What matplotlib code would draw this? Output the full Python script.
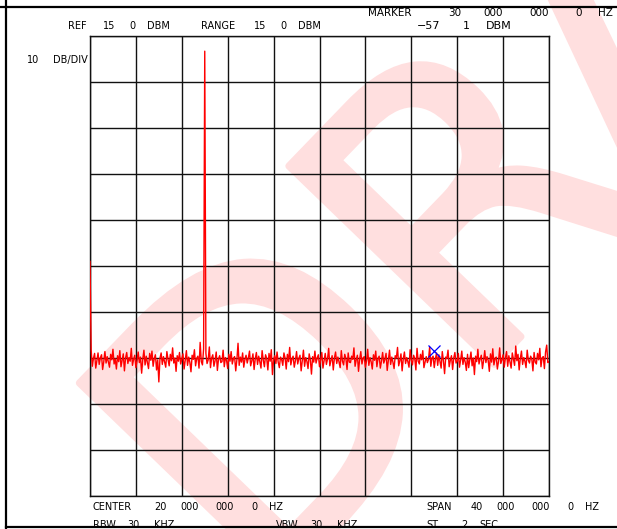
import numpy as np
import matplotlib
matplotlib.use('Agg')
import matplotlib.pyplot as plt
import matplotlib.patheffects as pe
from matplotlib.lines import Line2D
from matplotlib import transforms

# analyzer settings (MHz / dBm)
center_mhz = 20.0
span_mhz = 40.0
ref_dbm = 15.0
db_per_div = 10
n_div = 10
marker_mhz = 30.0
marker_dbm = -57.1

# trace, 401 points, 0..40 MHz
trace_dbm = [
    -34.0, -53.2, -56.8, -55.1, -54.0, -57.2, -55.6, -53.9, -56.4, -55.0, -54.3, -57.5, -55.8, -53.6, -56.1, -54.7, -55.9, -57.0, -54.2, -55.4,
    -53.1, -56.3, -55.2, -57.4, -54.5, -55.8, -53.4, -56.9, -55.5, -54.1, -57.8, -55.0, -53.8, -56.2, -54.9, -55.7, -52.9, -56.6, -55.3, -54.4,
    -57.1, -55.6, -53.7, -56.0, -54.8, -58.3, -55.2, -53.3, -56.5, -54.6, -55.9, -57.3, -54.0, -55.5, -53.5, -56.8, -55.1, -54.3, -57.6, -55.4,
    -60.2, -55.0, -53.9, -56.4, -54.7, -55.8, -57.0, -53.6, -55.3, -56.7, -54.2, -55.6, -52.8, -56.1, -55.0, -57.9, -54.5, -55.7, -53.8, -56.3,
    -55.2, -54.1, -57.4, -55.5, -53.4, -56.6, -54.8, -55.9, -58.0, -54.4, -55.3, -53.2, -56.7, -55.1, -54.6, -57.2, -51.6, -55.8, -56.5, -53.0,
    11.7, -54.0, -56.2, -55.4, -52.6, -57.1, -55.0, -54.3, -56.8, -55.6, -53.7, -57.7, -55.2, -54.5, -56.0, -55.8, -53.3, -56.9, -54.9, -55.5,
    -57.3, -54.2, -55.7, -53.6, -56.3, -55.1, -54.7, -57.8, -55.4, -51.8, -56.6, -54.8, -55.9, -53.9, -57.0, -55.3, -54.4, -56.1, -55.0, -53.5,
    -56.7, -55.6, -54.1, -57.5, -55.2, -53.8, -56.4, -54.6, -55.8, -57.2, -53.4, -55.5, -56.9, -54.3, -55.1, -57.6, -54.0, -55.7, -53.2, -58.6,
    -55.4, -54.5, -56.2, -53.7, -55.9, -57.1, -54.8, -55.3, -56.6, -53.9, -55.0, -57.4, -54.2, -55.8, -52.7, -56.5, -55.2, -54.6, -57.0, -55.6,
    -53.6, -56.3, -55.1, -54.4, -57.8, -55.5, -53.3, -56.8, -54.9, -55.7, -57.3, -54.1, -55.4, -58.5, -54.7, -55.9, -53.5, -56.1, -55.0, -54.3,
    -56.9, -55.3, -53.8, -57.2, -55.6, -54.0, -56.4, -55.2, -52.9, -56.7, -55.5, -54.5, -57.6, -55.0, -53.7, -56.2, -54.8, -55.8, -57.1, -53.4,
    -55.7, -56.5, -54.2, -55.1, -57.5, -53.9, -55.9, -56.0, -54.6, -55.3, -52.8, -56.8, -55.4, -54.4, -57.9, -55.2, -53.6, -56.3, -55.0, -54.7,
    -57.0, -55.6, -53.1, -56.6, -54.9, -55.8, -57.4, -54.3, -55.5, -53.5, -56.9, -55.1, -54.6, -57.2, -55.7, -53.8, -56.1, -55.3, -54.0, -57.7,
    -55.4, -53.3, -56.4, -54.8, -55.9, -57.3, -54.5, -55.0, -52.7, -56.7, -55.6, -54.1, -57.8, -55.2, -53.7, -56.2, -54.9, -55.8, -57.0, -53.2,
    -55.5, -56.5, -54.4, -55.1, -57.6, -52.9, -55.7, -56.3, -54.2, -55.4, -53.4, -57.1, -55.9, -54.7, -56.0, -55.3, -52.6, -56.8, -55.0, -54.6,
    -57.1, -55.2, -53.9, -56.6, -54.3, -55.8, -57.2, -53.6, -55.6, -58.4, -54.8, -55.1, -53.3, -56.9, -55.5, -54.5, -57.5, -55.0, -53.8, -56.1,
    -55.7, -54.0, -57.0, -55.4, -53.5, -56.4, -54.9, -55.9, -57.7, -54.2, -57.1, -55.3, -53.7, -56.7, -55.0, -58.6, -54.6, -55.8, -53.1, -56.3,
    -55.2, -54.4, -57.3, -55.6, -53.4, -56.0, -54.7, -55.5, -57.9, -54.1, -55.9, -53.0, -56.5, -55.1, -54.8, -57.4, -55.7, -52.8, -56.2, -55.4,
    -54.3, -57.0, -55.0, -53.6, -56.8, -54.5, -55.8, -57.2, -53.9, -55.3, -56.6, -52.4, -55.6, -54.2, -57.6, -55.1, -53.5, -56.4, -54.9, -55.7,
    -57.1, -53.3, -55.5, -56.1, -54.6, -55.2, -57.8, -53.8, -55.9, -56.3, -54.0, -55.4, -52.9, -56.9, -55.0, -54.7, -57.3, -53.7, -52.2, -56.0,
    -55.8,
]

W, H = 617, 529
fig = plt.figure(figsize=(W / 100, H / 100), dpi=100)
fig.patch.set_facecolor('white')

def fx(px):
    return px / W

def fy(py):
    return 1 - py / H

# pink watermark underneath everything
fig.text(fx(258), fy(609), 'DRAFT', fontsize=282, rotation=46,
         rotation_mode='anchor', ha='left', va='baseline',
         color='#ffdfdf', zorder=-10,
         path_effects=[pe.withStroke(linewidth=5, foreground='#ffdfdf',
                                     joinstyle='round', capstyle='round')])

ax = fig.add_axes([fx(90), fy(496), fx(459), 460 / H])
ax.set_facecolor('none')

lo = center_mhz - span_mhz / 2
hi = center_mhz + span_mhz / 2
freq = lo + span_mhz * np.arange(len(trace_dbm)) / (len(trace_dbm) - 1)
bottom = ref_dbm - db_per_div * n_div

ax.plot(freq, trace_dbm, color='red', lw=1.0, zorder=3)

# marker symbol sits a little above the trace point
mk_tr = transforms.offset_copy(ax.transData, fig=fig, y=12, units='points')
ax.plot([marker_mhz], [marker_dbm], marker='x', color='blue', ms=9, mew=0.9,
        transform=mk_tr, zorder=4, clip_on=False)

ax.set_xlim(lo, hi)
ax.set_ylim(bottom, ref_dbm)
ax.set_xticks(np.linspace(lo, hi, n_div + 1))
ax.set_yticks(np.linspace(bottom, ref_dbm, n_div + 1))
ax.grid(True, color='#111111', lw=1.0, zorder=2)
ax.set_axisbelow(False)
ax.tick_params(length=0, labelbottom=False, labelleft=False)
for s in ax.spines.values():
    s.set_color('#111111')
    s.set_linewidth(1.0)


def plotter_text(x0, y, s, pitch, size):
    # fixed-pitch layout: each word at its character column
    i = 0
    for word in s.split(' '):
        if word:
            fig.text(fx(x0 + i * pitch), fy(y), word, fontsize=size,
                     ha='left', va='baseline', color='black')
        i += len(word) + 1


plotter_text(67.7, 29.3, 'REF 15 0 DBM', 8.8, 7)
plotter_text(201.5, 29.3, 'RANGE 15 0 DBM', 8.75, 7)
plotter_text(368, 15.7, 'MARKER 30 000 000 0 HZ', 11.5, 7.5)
plotter_text(417, 29.3, '\u221257 1 DBM', 11.5, 8)
plotter_text(26.8, 62.7, '10 DB/DIV', 8.6, 7)
plotter_text(92.5, 510, 'CENTER 20 000 000 0 HZ', 8.8, 7)
plotter_text(426.2, 510, 'SPAN 40 000 000 0 HZ', 8.8, 7)
plotter_text(92.5, 528, 'RBW 30 KHZ', 8.8, 7)
plotter_text(275.5, 528, 'VBW 30 KHZ', 8.8, 7)
plotter_text(426.2, 528, 'ST  2 SEC', 8.8, 7)

# page frame
fig.add_artist(Line2D([0, 1], [fy(7), fy(7)], color='black', lw=1.6))
fig.add_artist(Line2D([fx(6), fx(6)], [0, 1], color='black', lw=1.6))
fig.add_artist(Line2D([fx(6), 1], [fy(527), fy(527)], color='black', lw=1.6))

fig.savefig('out.png', dpi=100, facecolor='white')
